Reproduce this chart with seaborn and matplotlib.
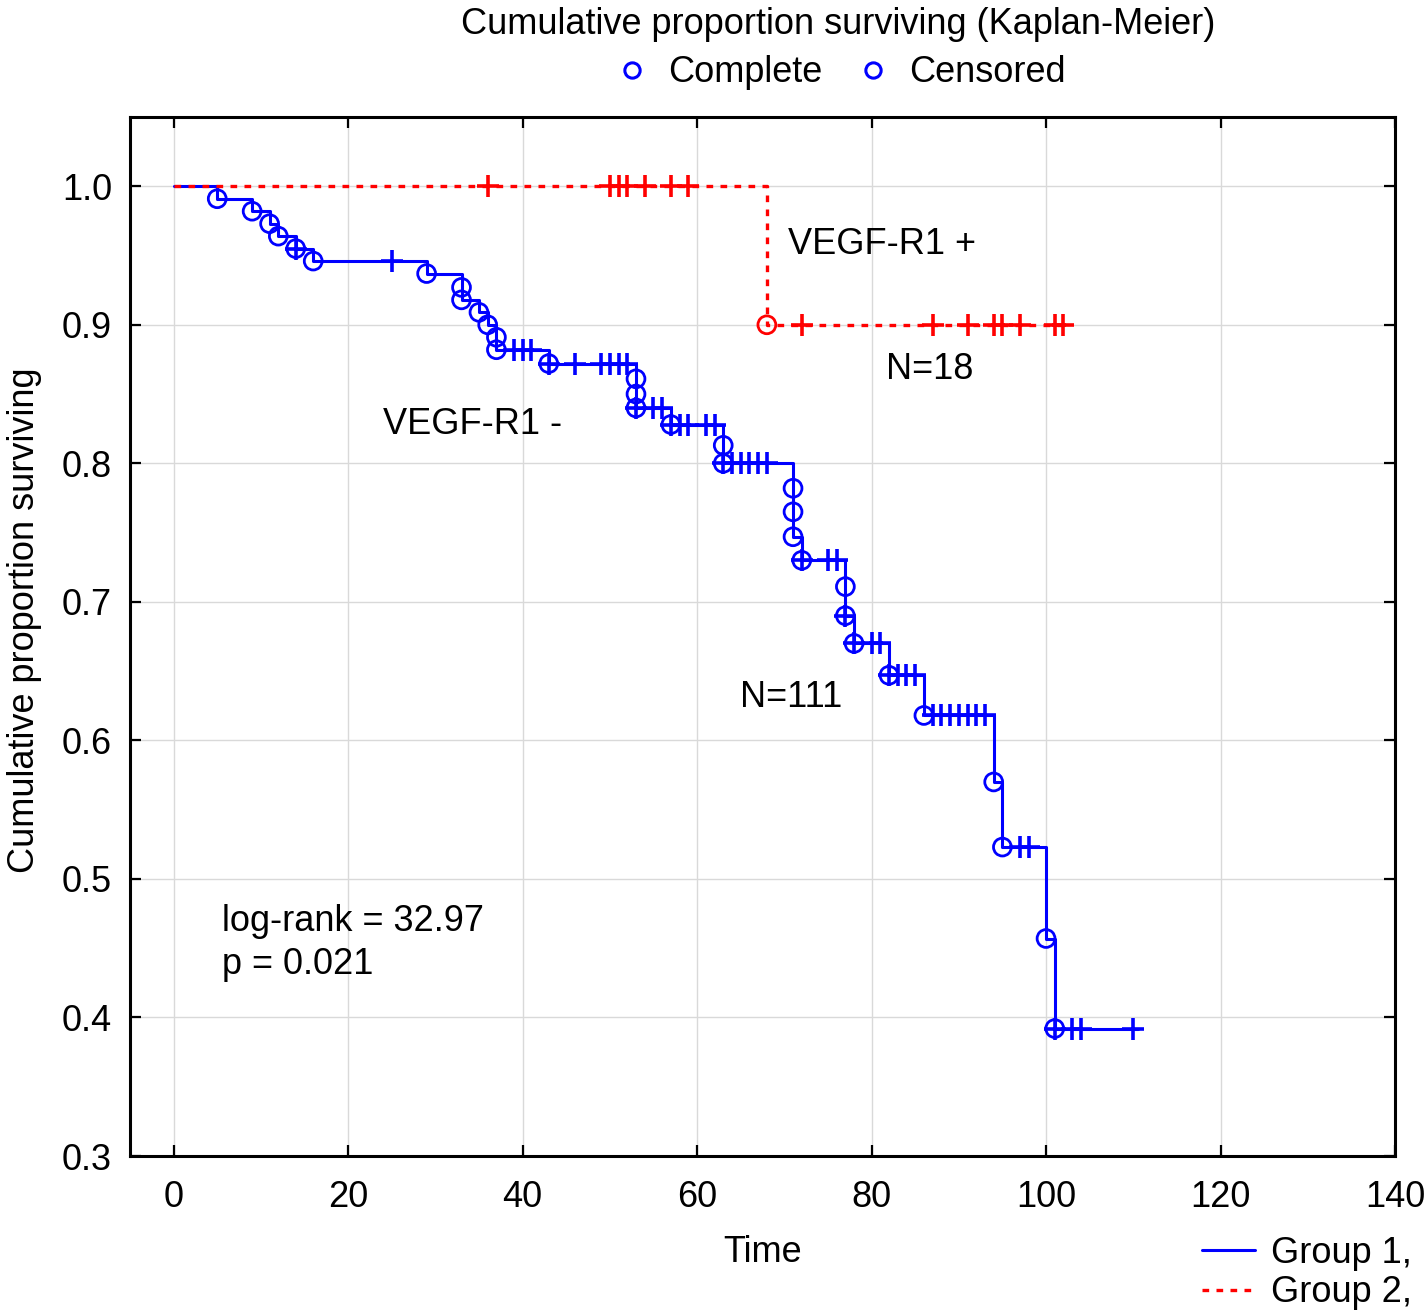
import numpy as np
import pandas as pd
import matplotlib
matplotlib.use("Agg")
import matplotlib.pyplot as plt
from matplotlib.lines import Line2D
import seaborn as sns

# ---------------- data ----------------
# Group 1 (VEGF-R1 -): event times and survival after each event
g1_event_t = [5, 9, 11, 12, 14, 16, 29, 33, 33, 35, 36, 37, 37, 43, 53, 53, 53, 57,
              63, 63, 71, 71, 71, 72, 77, 77, 78, 82, 86, 94, 95, 100, 101]
g1_event_s = [0.991, 0.982, 0.973, 0.964, 0.955, 0.946, 0.937, 0.927, 0.918, 0.909,
              0.900, 0.891, 0.882, 0.872, 0.861, 0.850, 0.840, 0.828, 0.813, 0.800,
              0.782, 0.765, 0.747, 0.730, 0.711, 0.690, 0.670, 0.647, 0.618, 0.570,
              0.523, 0.457, 0.392]
g1_censor_t = [14, 25, 39, 40, 41, 43, 46, 49, 50, 51, 52, 53, 55, 56, 57, 58, 59, 61, 62,
               63, 64, 65, 66, 67, 68, 72, 75, 76, 77, 78, 80, 81, 82, 83, 84, 85,
               87, 88, 89, 90, 91, 92, 93, 97, 98, 101, 103, 104, 110]
g1_end = 110.5

# Group 2 (VEGF-R1 +)
g2_event_t = [68]
g2_event_s = [0.900]
g2_censor_t = [36, 50, 51, 52, 54, 57, 59, 72, 87, 91, 94, 95, 97, 101, 102]
g2_end = 102.8

x_ticks = [0, 20, 40, 60, 80, 100, 120, 140]
y_ticks = [0.3, 0.4, 0.5, 0.6, 0.7, 0.8, 0.9, 1.0]

BLUE = "#0000ff"
RED = "#ff0000"

# ---------------- style ----------------
sns.set_theme(style="white")
plt.rcParams["font.family"] = ["Liberation Sans", "DejaVu Sans"]
plt.rcParams["text.color"] = "black"
plt.rcParams["axes.labelcolor"] = "black"
FS = 26

fig = plt.figure(figsize=(14.27, 13.13), dpi=100)
ax = fig.add_axes([130 / 1427, 1 - 1156 / 1313, (1395 - 130) / 1427, (1156 - 117) / 1313])


def step_df(ev_t, ev_s, end):
    xs = [0] + list(ev_t) + [end]
    ys = [1.0] + list(ev_s) + [ev_s[-1]]
    return pd.DataFrame({"t": xs, "s": ys})


def surv_at(ev_t, ev_s, times):
    ev_t = np.asarray(ev_t)
    ev_s = np.asarray(ev_s)
    out = []
    for t in times:
        idx = np.searchsorted(ev_t, t, side="right") - 1
        out.append(1.0 if idx < 0 else ev_s[idx])
    return out


d1 = step_df(g1_event_t, g1_event_s, g1_end)
d2 = step_df(g2_event_t, g2_event_s, g2_end)

sns.lineplot(data=d1, x="t", y="s", ax=ax, estimator=None, sort=False,
             drawstyle="steps-post", color=BLUE, linewidth=2.2, zorder=3)
sns.lineplot(data=d2, x="t", y="s", ax=ax, estimator=None, sort=False,
             drawstyle="steps-post", color=RED, linewidth=2.4, linestyle=(0, (2, 2.2)),
             zorder=4)

# event circles
for ev_t, ev_s, col in [(g1_event_t, g1_event_s, BLUE), (g2_event_t, g2_event_s, RED)]:
    sns.scatterplot(x=ev_t, y=ev_s, ax=ax, marker="o", s=165, facecolors="none",
                    edgecolor=col, linewidth=2.0, zorder=5)

# censor ticks
for c_t, ev_t, ev_s, col in [(g1_censor_t, g1_event_t, g1_event_s, BLUE),
                              (g2_censor_t, g2_event_t, g2_event_s, RED)]:
    sns.scatterplot(x=c_t, y=surv_at(ev_t, ev_s, c_t), ax=ax, marker="+", s=260,
                    color=col, linewidth=2.6, zorder=5)

# axes
ax.set_xlim(-5, 140)
ax.set_ylim(0.3, 1.05)
ax.set_xticks(x_ticks)
ax.set_yticks(y_ticks)
ax.set_xticklabels([str(v) for v in x_ticks])
ax.set_yticklabels([f"{v:.1f}" for v in y_ticks])
ax.tick_params(direction="in", length=8, width=1.6, colors="black", labelsize=FS,
               top=True, right=True, bottom=True, left=True)
ax.tick_params(axis="x", pad=17)
ax.tick_params(axis="y", pad=13)
ax.grid(True, color="#d9d9d9", linewidth=1.0)
for sp in ax.spines.values():
    sp.set_color("black")
    sp.set_linewidth(2.2)
ax.set_xlabel("")
ax.set_ylabel("")

# annotations
ax.text(70.4, 0.958, "VEGF-R1 +", fontsize=FS, va="center", ha="left")
ax.text(81.7, 0.868, "N=18", fontsize=FS, va="center", ha="left")
ax.text(24.0, 0.828, "VEGF-R1 -", fontsize=FS, va="center", ha="left")
ax.text(64.9, 0.631, "N=111", fontsize=FS, va="center", ha="left")
ax.text(5.5, 0.469, "log-rank = 32.97", fontsize=FS, va="center", ha="left")
ax.text(5.5, 0.438, "p = 0.021", fontsize=FS, va="center", ha="left")

# figure texts
fig.text(838 / 1427, 1 - 24 / 1313, "Cumulative proportion surviving (Kaplan-Meier)",
         fontsize=FS, ha="center", va="center")
fig.text(763 / 1427, 1 - 1253 / 1313, "Time", fontsize=FS, ha="center", va="center")
fig.text(25 / 1427, 1 - 620 / 1313, "Cumulative proportion surviving", fontsize=FS,
         ha="center", va="center", rotation=90)

top_handles = [Line2D([], [], marker="o", ls="", mfc="none", mec=BLUE, mew=2.2, ms=11),
               Line2D([], [], marker="o", ls="", mfc="none", mec=BLUE, mew=2.2, ms=11)]
fig.legend(top_handles, ["Complete", "Censored"], loc="center",
           bbox_to_anchor=(842 / 1427, 1 - 73 / 1313), ncol=2, frameon=False,
           fontsize=FS, handlelength=0.8, handletextpad=0.6, columnspacing=1.0,
           borderpad=0.0)

bot_handles = [Line2D([], [], color=BLUE, lw=2.2),
               Line2D([], [], color=RED, lw=2.4, ls=(0, (2, 2.2)))]
fig.legend(bot_handles, ["Group 1,", "Group 2,"], loc="center right",
           bbox_to_anchor=(1412 / 1427, 1 - 1273 / 1313), frameon=False, fontsize=FS,
           handlelength=1.45, handletextpad=0.45, labelspacing=0.12, borderpad=0.0,
           borderaxespad=0.0)

fig.savefig("out.png", dpi=100, facecolor="white")
